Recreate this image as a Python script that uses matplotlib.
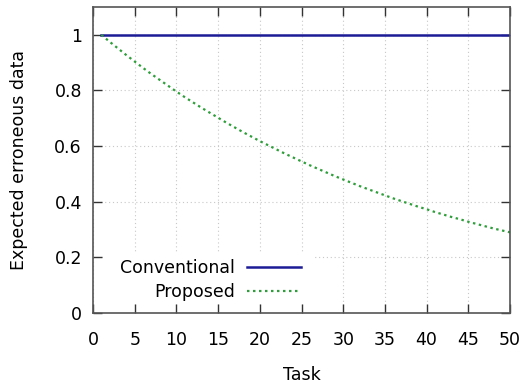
import matplotlib.pyplot as plt
from matplotlib.patches import Rectangle

# expected erroneous data per task
tasks = list(range(1, 51))
conventional = [1.0] * 50
proposed = [
    1.000, 0.975, 0.951, 0.927, 0.904, 0.881, 0.859, 0.838, 0.817, 0.796,
    0.776, 0.757, 0.738, 0.720, 0.702, 0.684, 0.667, 0.650, 0.634, 0.618,
    0.603, 0.588, 0.573, 0.559, 0.545, 0.531, 0.518, 0.505, 0.492, 0.480,
    0.468, 0.456, 0.445, 0.434, 0.423, 0.412, 0.402, 0.392, 0.382, 0.373,
    0.363, 0.354, 0.345, 0.337, 0.328, 0.320, 0.312, 0.304, 0.297, 0.290,
]
xticks = list(range(0, 51, 5))
yticks = [0, 0.2, 0.4, 0.6, 0.8, 1]
ytick_labels = ["0", "0.2", "0.4", "0.6", "0.8", "1"]

plt.rcParams["font.family"] = "DejaVu Sans"
plt.rcParams["font.size"] = 12.5

fig = plt.figure(figsize=(5.23, 3.90), dpi=100)
ax = fig.add_axes((93 / 523, 77 / 390, 417 / 523, 306 / 390))

ax.plot(tasks, conventional, color="#1c1c96", lw=1.8, label="Conventional")
ax.plot(tasks, proposed, color="#2e9e3a", lw=1.6, dashes=(1.1, 1.6), label="Proposed")

ax.set_xlim(0, 50)
ax.set_ylim(0, 1.1)
ax.set_xticks(xticks)
ax.set_yticks(yticks)
ax.set_yticklabels(ytick_labels)
ax.grid(True, color="#c8c8c8", lw=0.8, ls=(0, (1, 2.5)))
ax.set_axisbelow(True)

ax.tick_params(direction="in", length=6.5, width=1, color="#333333",
               top=True, right=True)
ax.tick_params(axis="x", pad=13)
ax.tick_params(axis="y", pad=8)
for s in ax.spines.values():
    s.set_color("#555555")
    s.set_linewidth(1.2)

ax.set_xlabel("Task", labelpad=12)
ax.set_ylabel("Expected erroneous data", labelpad=19)

# key area: blank out the grid behind it, leaving the ticks visible
ax.add_patch(Rectangle((0.025, 0.03), 0.503, 0.166, transform=ax.transAxes,
                       facecolor="white", edgecolor="none", zorder=0.6))
leg = ax.legend(loc="lower right", bbox_to_anchor=(0.505, 0.03), borderaxespad=0,
                markerfirst=False, handlelength=3.1, handletextpad=0.7,
                labelspacing=0.37, borderpad=0.15, frameon=False)
for t in leg.get_texts():
    t.set_ha("right")

fig.savefig("out.png", dpi=100)
